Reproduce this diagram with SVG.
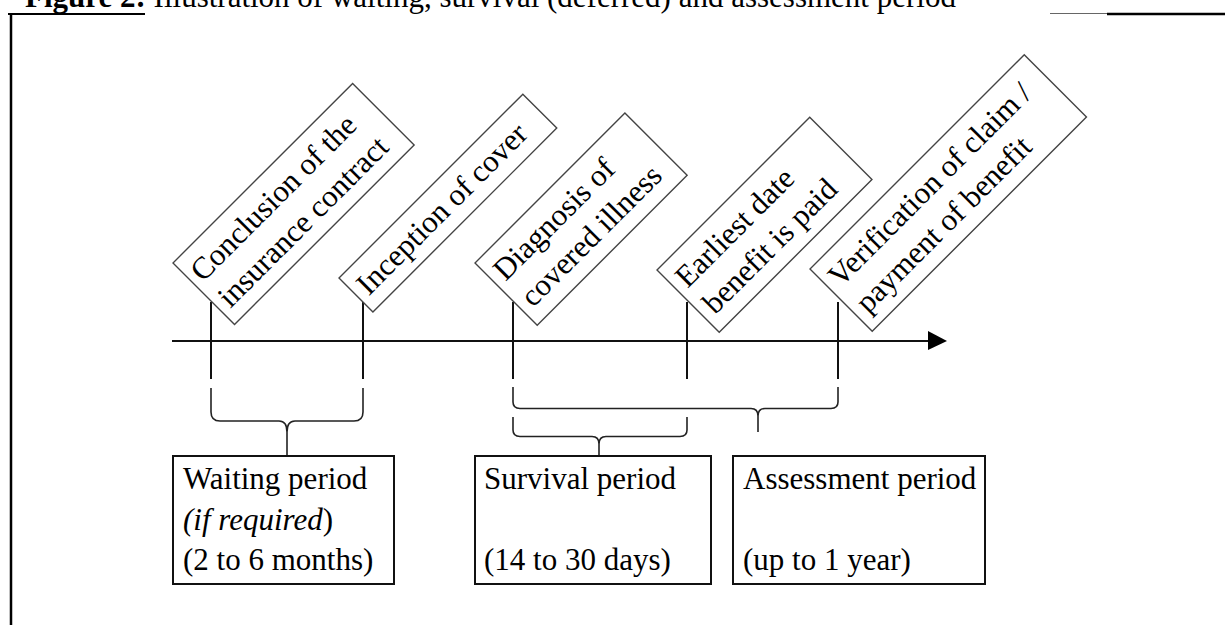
<svg xmlns="http://www.w3.org/2000/svg" width="1225" height="625" viewBox="0 0 1225 625">
<style>
text{font-family:"Liberation Serif","Times New Roman",serif;font-size:31px;fill:#000}
.rb{fill:#fff;stroke:#444;stroke-width:1.4}
.hb{fill:#fff;stroke:#111;stroke-width:2}
.ln{fill:none;stroke:#111;stroke-width:2}
.br{fill:none;stroke:#222;stroke-width:1.6}
</style>
<g id="frame">
<text x="25" y="7"><tspan font-weight="bold">Figure 2:</tspan> Illustration of waiting, survival (deferred) and assessment period</text>
<line x1="8" y1="14" x2="145" y2="14" stroke="#000" stroke-width="2"/>
<line x1="11" y1="14" x2="11" y2="625" stroke="#000" stroke-width="2.5"/>
<line x1="1050" y1="13.5" x2="1107" y2="13.5" stroke="#666" stroke-width="1"/>
<line x1="1107" y1="14" x2="1225" y2="14" stroke="#000" stroke-width="2.5"/>
</g>
<g id="connectors">
<line class="ln" x1="172" y1="341" x2="930" y2="341"/>
<polygon points="928,331 947,341 928,350" fill="#000"/>
<line class="ln" x1="211" y1="302" x2="211" y2="379"/>
<line class="ln" x1="363" y1="302" x2="363" y2="379"/>
<line class="ln" x1="513" y1="302" x2="513" y2="379"/>
<line class="ln" x1="687" y1="302" x2="687" y2="379"/>
<line class="ln" x1="838" y1="302" x2="838" y2="379"/>
<path class="br" d="M211,388 L211,412 Q211,421 220,421 L279,421 Q287,421 287,432 L287,456 M287,432 Q287,421 295,421 L354,421 Q363,421 363,412 L363,388"/>
<path class="br" d="M513,387 L513,402 Q513,408.5 520,408.5 L751,408.5 Q758,408.5 758,416 L758,432 M758,416 Q758,408.5 765,408.5 L831,408.5 Q838,408.5 838,402 L838,387"/>
<path class="br" d="M513,417 L513,430 Q513,436.5 520,436.5 L592,436.5 Q599,436.5 599,444 L599,456 M599,444 Q599,436.5 606,436.5 L680,436.5 Q687,436.5 687,430 L687,417" stroke="#555" stroke-width="2"/>
</g>
<g id="conclusion" transform="translate(173,263) rotate(-45)">
<rect class="rb" x="0" y="0" width="254" height="87"/>
<text x="7" y="35">Conclusion of the</text>
<text x="8" y="73">insurance contract</text>
</g>
<g id="inception" transform="translate(339,278) rotate(-45)">
<rect class="rb" x="0" y="0" width="260" height="48"/>
<text x="8" y="34">Inception of cover</text>
</g>
<g id="diagnosis" transform="translate(475,263) rotate(-45)">
<rect class="rb" x="0" y="0" width="212" height="88"/>
<text x="8" y="35">Diagnosis of</text>
<text x="9" y="73">covered illness</text>
</g>
<g id="earliest" transform="translate(657,270) rotate(-45)">
<rect class="rb" x="0" y="0" width="216" height="88"/>
<text x="8" y="35">Earliest date</text>
<text x="9" y="73">benefit is paid</text>
</g>
<g id="verification" transform="translate(810,269) rotate(-45)">
<rect class="rb" x="0" y="0" width="303" height="88"/>
<text x="8" y="35">Verification of claim /</text>
<text x="9" y="73">payment of benefit</text>
</g>
<g id="waiting">
<rect class="hb" x="173" y="456" width="221" height="128"/>
<text x="183" y="489">Waiting period</text>
<text x="183" y="530"><tspan font-style="italic">(if required</tspan>)</text>
<text x="183" y="570">(2 to 6 months)</text>
</g>
<g id="survival">
<rect class="hb" x="475" y="456" width="236" height="128"/>
<text x="484" y="489">Survival period</text>
<text x="484" y="570">(14 to 30 days)</text>
</g>
<g id="assessment">
<rect class="hb" x="733" y="456" width="252" height="128"/>
<text x="743" y="489">Assessment period</text>
<text x="743" y="570">(up to 1 year)</text>
</g>
</svg>
